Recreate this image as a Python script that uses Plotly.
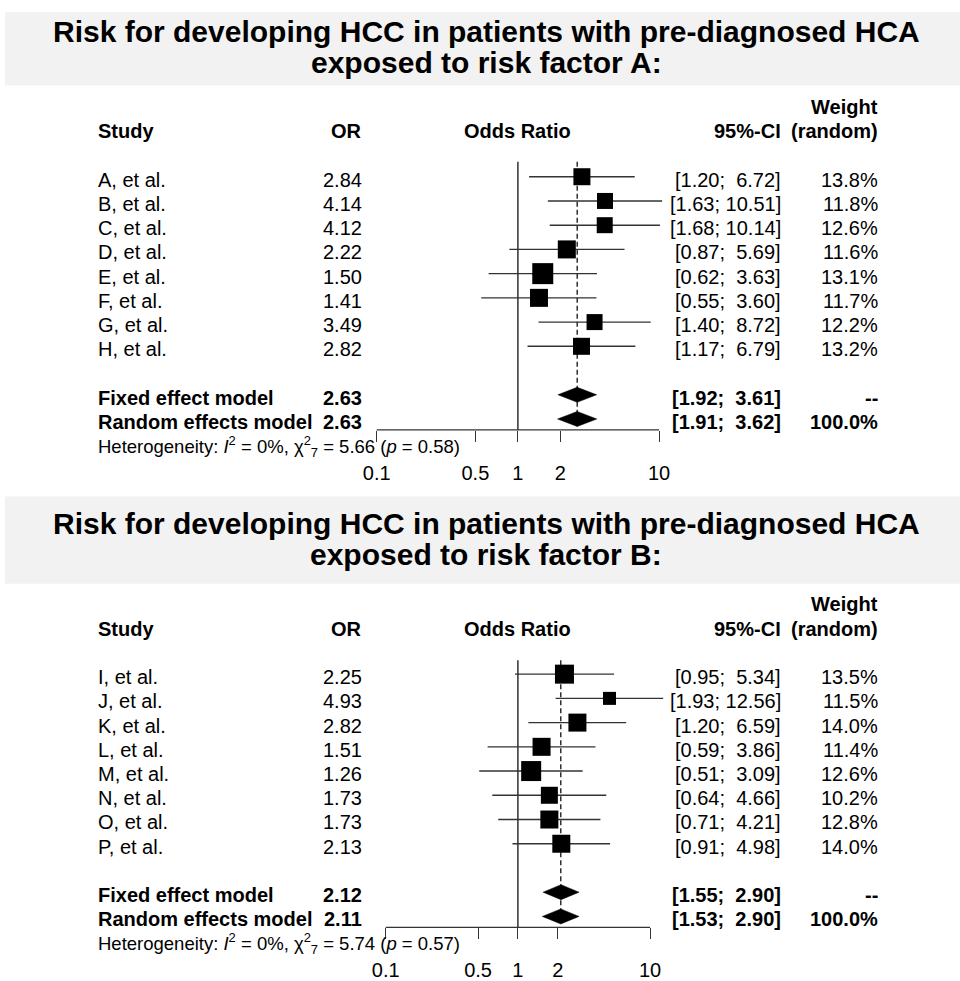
import plotly.graph_objects as go

W, H = 960, 981

# ---------------- data: panel A ----------------
title_a = ["Risk for developing HCC in patients with pre-diagnosed HCA",
           "exposed to risk factor A:"]
studies_a = ["A, et al.", "B, et al.", "C, et al.", "D, et al.",
             "E, et al.", "F, et al.", "G, et al.", "H, et al."]
or_a = [2.84, 4.14, 4.12, 2.22, 1.50, 1.41, 3.49, 2.82]
lo_a = [1.20, 1.63, 1.68, 0.87, 0.62, 0.55, 1.40, 1.17]
hi_a = [6.72, 10.51, 10.14, 5.69, 3.63, 3.60, 8.72, 6.79]
wt_a = [13.8, 11.8, 12.6, 11.6, 13.1, 11.7, 12.2, 13.2]
fixed_a = [2.63, 1.92, 3.61]
random_a = [2.63, 1.91, 3.62]
het_a = {"i2": 0, "chi2": 5.66, "df": 7, "p": 0.58}

# ---------------- data: panel B ----------------
title_b = ["Risk for developing HCC in patients with pre-diagnosed HCA",
           "exposed to risk factor B:"]
studies_b = ["I, et al.", "J, et al.", "K, et al.", "L, et al.",
             "M, et al.", "N, et al.", "O, et al.", "P, et al."]
or_b = [2.25, 4.93, 2.82, 1.51, 1.26, 1.73, 1.73, 2.13]
lo_b = [0.95, 1.93, 1.20, 0.59, 0.51, 0.64, 0.71, 0.91]
hi_b = [5.34, 12.56, 6.59, 3.86, 3.09, 4.66, 4.21, 4.98]
wt_b = [13.5, 11.5, 14.0, 11.4, 12.6, 10.2, 12.8, 14.0]
fixed_b = [2.12, 1.55, 2.90]
random_b = [2.11, 1.53, 2.90]
het_b = {"i2": 0, "chi2": 5.74, "df": 7, "p": 0.57}

tick_vals = [0.1, 0.5, 1, 2, 10]
tick_labels = ["0.1", "0.5", "1", "2", "10"]
null_effect = 1
axis_min, axis_max = 0.1, 10

# ---------------- styles (square side in px) ----------------
sq_a = [17, 16, 16, 18, 21, 18, 16, 17]
sq_b = [19, 13, 18, 18, 20, 17, 18, 18]

FONT = "Liberation Sans, Arial, sans-serif"
TFONT = "Liberation Sans Narrow, Arial Narrow, Liberation Sans, Arial, sans-serif"
NBSP = "\u00a0"

# panel geometry (pixels)
panels = [
    dict(title=title_a, studies=studies_a, orv=or_a, lo=lo_a, hi=hi_a, wt=wt_a,
         fixed=fixed_a, random=random_a, het=het_a, sq=sq_a,
         band=(12, 86), tl=(32, 63), row0=178, step=24.4, axis_px=433,
         x01=376.7, dec=141.2, vtop=163, xa="x", ya="y"),
    dict(title=title_b, studies=studies_b, orv=or_b, lo=lo_b, hi=hi_b, wt=wt_b,
         fixed=fixed_b, random=random_b, het=het_b, sq=sq_b,
         band=(500, 588), tl=(527, 558), row0=679, step=24.4, axis_px=934,
         x01=385.7, dec=132.2, vtop=665, xa="x2", ya="y2"),
]

fig = go.Figure()
annotations = []
shapes = []
layout_axes = {}

TEXT_SHIFT_PX = 3


def ci_text(lo, hi):
    pad = NBSP if hi >= 10 else NBSP * 2
    return f"[{lo:.2f};{pad}{hi:.2f}]"


def ann(x_px, y, text, yref, anchor="left", size=20, bold=False, color="black", fam=FONT):
    if bold:
        text = f"<b>{text}</b>"
    annotations.append(dict(x=x_px / W, xref="paper", y=y, yref=yref, text=text,
                            showarrow=False, xanchor=anchor, yanchor="middle",
                            font=dict(family=fam, size=size, color=color)))


X_STUDY, X_OR, X_ODDS, X_CI, X_WT = 96, 364, 517, 783, 880

for k, p in enumerate(panels):
    suffix = "" if k == 0 else "2"
    step, row0 = p["step"], p["row0"]
    row_of = lambda px, row0=row0, step=step: (px - row0) / step
    yr = p["ya"]
    d = TEXT_SHIFT_PX / step

    # axes covering the whole figure
    lmin = -1 - p["x01"] / p["dec"]
    lmax = -1 + (W - p["x01"]) / p["dec"]
    xa = dict(type="log", range=[lmin, lmax], domain=[0, 1], showgrid=False,
              zeroline=False, showline=False, ticks="outside", ticklen=11,
              tickwidth=1.3, tickcolor="#333", tickvals=tick_vals, ticktext=tick_labels,
              tickfont=dict(family=FONT, size=20, color="black"),
              anchor="free", position=1 - p["axis_px"] / H, side="bottom",
              ticklabelstandoff=14, fixedrange=True)
    ya = dict(range=[row_of(H), row_of(0)], domain=[0, 1], visible=False,
              showgrid=False, zeroline=False, fixedrange=True)
    if k == 1:
        xa["overlaying"] = "x"
        ya["overlaying"] = "y"
    layout_axes["xaxis" + suffix] = xa
    layout_axes["yaxis" + suffix] = ya

    # title band and title
    shapes.append(dict(type="rect", xref="paper", yref="paper", x0=5 / W, x1=1,
                       y0=1 - p["band"][1] / H, y1=1 - p["band"][0] / H,
                       fillcolor="#f2f2f2", line=dict(width=0), layer="below"))
    for line, ypx in zip(p["title"], p["tl"]):
        ann(486, 1 - ypx / H, line, "paper", anchor="center", size=30, bold=True, fam=TFONT)

    # headers
    ann(X_STUDY, -2 + d, "Study", yr, bold=True)
    ann(X_OR, -2 + d, "OR", yr, anchor="right", bold=True)
    ann(X_ODDS, -2 + d, "Odds Ratio", yr, anchor="center", bold=True)
    ann(X_CI, -2 + d, "95%-CI", yr, anchor="right", bold=True)
    ann(X_WT, -3 + d, "Weight", yr, anchor="right", bold=True)
    ann(X_WT, -2 + d, "(random)", yr, anchor="right", bold=True)

    n = len(p["studies"])
    rows = list(range(n))
    for i in rows:
        ann(X_STUDY, i + d, p["studies"][i], yr)
        ann(X_OR, i + d, f"{p['orv'][i]:.2f}", yr, anchor="right")
        ann(X_CI, i + d, ci_text(p["lo"][i], p["hi"][i]), yr, anchor="right")
        ann(X_WT, i + d, f"{p['wt'][i]:.1f}%", yr, anchor="right")

    r_fix, r_ran, r_het = n + 1, n + 2, n + 3
    ann(X_STUDY, r_fix + d, "Fixed effect model", yr, bold=True)
    ann(X_OR, r_fix + d, f"{p['fixed'][0]:.2f}", yr, anchor="right", bold=True)
    ann(X_CI, r_fix + d, ci_text(p["fixed"][1], p["fixed"][2]), yr, anchor="right", bold=True)
    ann(X_WT, r_fix + d, "--", yr, anchor="right", bold=True)
    ann(X_STUDY, r_ran + d, "Random effects model", yr, bold=True)
    ann(X_OR, r_ran + d, f"{p['random'][0]:.2f}", yr, anchor="right", bold=True)
    ann(X_CI, r_ran + d, ci_text(p["random"][1], p["random"][2]), yr, anchor="right", bold=True)
    ann(X_WT, r_ran + d, "100.0%", yr, anchor="right", bold=True)
    h = p["het"]
    het_txt = (f"Heterogeneity: <i>I</i><sup>2</sup> = {h['i2']}%, "
               f"χ<sup>2</sup><sub>{h['df']}</sub> = {h['chi2']:.2f} "
               f"(<i>p</i> = {h['p']:.2f})")
    ann(X_STUDY, r_het + d, het_txt, yr, size=18.5)

    axis_row = row_of(p["axis_px"])
    top_row = row_of(p["vtop"])

    # null-effect line
    fig.add_trace(go.Scatter(x=[null_effect, null_effect], y=[top_row, axis_row],
                             mode="lines", line=dict(color="#222", width=1.4),
                             xaxis=p["xa"], yaxis=p["ya"], hoverinfo="skip",
                             showlegend=False))
    # random-effects estimate dashed line
    fig.add_trace(go.Scatter(x=[p["random"][0], p["random"][0]], y=[top_row, r_ran + 0.3],
                             mode="lines", line=dict(color="#222", width=1.4, dash="5px,3px"),
                             xaxis=p["xa"], yaxis=p["ya"], hoverinfo="skip",
                             showlegend=False))
    # CI lines
    for i in rows:
        fig.add_trace(go.Scatter(x=[p["lo"][i], p["hi"][i]], y=[i, i], mode="lines",
                                 line=dict(color="#333", width=1.4),
                                 xaxis=p["xa"], yaxis=p["ya"], hoverinfo="skip",
                                 showlegend=False))
    # squares
    fig.add_trace(go.Scatter(x=p["orv"], y=rows, mode="markers",
                             marker=dict(symbol="square", size=p["sq"], color="black",
                                         opacity=1, line=dict(width=0)),
                             xaxis=p["xa"], yaxis=p["ya"], hoverinfo="skip",
                             showlegend=False))
    # diamonds
    hh = 0.31
    for est, r in ((p["fixed"], r_fix), (p["random"], r_ran)):
        fig.add_trace(go.Scatter(x=[est[1], est[0], est[2], est[0], est[1]],
                                 y=[r, r - hh, r, r + hh, r], mode="lines",
                                 fill="toself", fillcolor="black",
                                 line=dict(color="black", width=0.5),
                                 xaxis=p["xa"], yaxis=p["ya"], hoverinfo="skip",
                                 showlegend=False))
    # axis baseline
    shapes.append(dict(type="line", xref=p["xa"], yref="paper", x0=axis_min, x1=axis_max,
                       y0=1 - p["axis_px"] / H, y1=1 - p["axis_px"] / H,
                       line=dict(color="#333", width=1.3)))

fig.update_layout(width=W, height=H, margin=dict(l=0, r=0, t=0, b=0),
                  paper_bgcolor="white", plot_bgcolor="rgba(0,0,0,0)",
                  annotations=annotations, shapes=shapes, showlegend=False,
                  **layout_axes)

fig.write_html("out.html", config={"displayModeBar": False},
               post_script="document.body.style.margin='0';")
